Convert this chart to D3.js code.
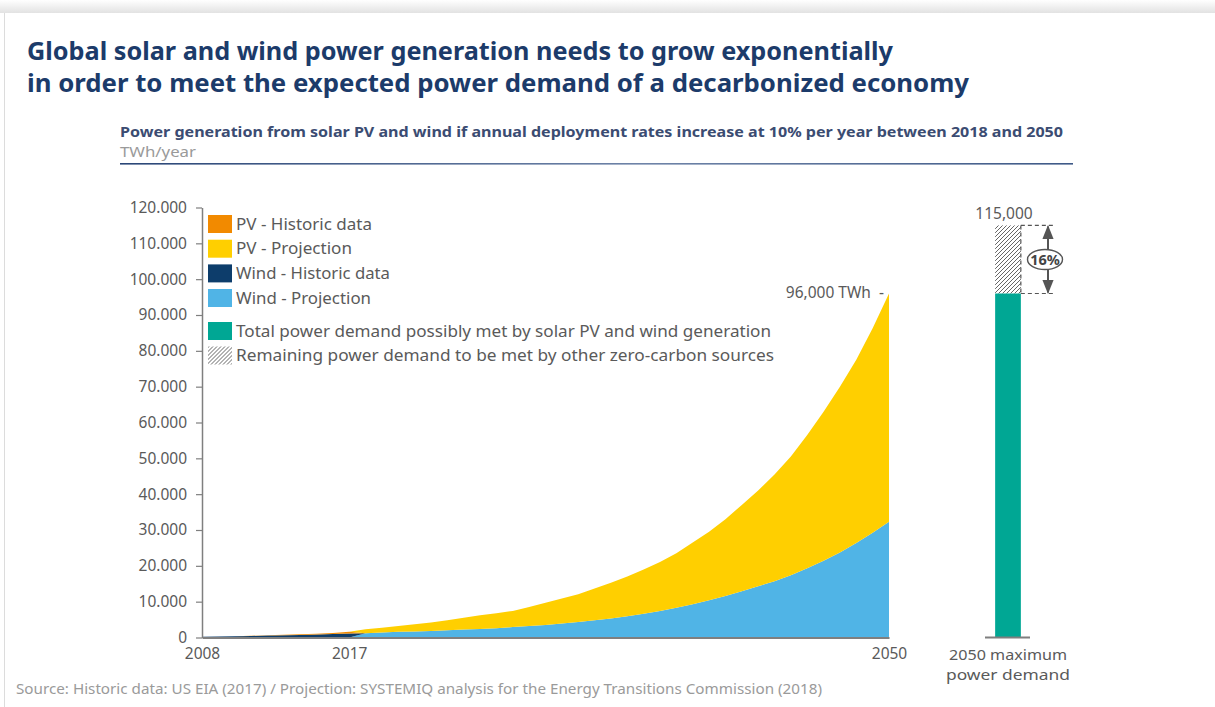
<!DOCTYPE html>
<html>
<head>
<meta charset="utf-8">
<script src="https://cdn.jsdelivr.net/npm/d3@7"></script>
<style>
  html, body { margin: 0; padding: 0; background: #fff; }
  svg { display: block; font-family: "Noto Sans", "Open Sans", sans-serif; }
</style>
</head>
<body>
<svg id="chart" width="1215" height="707"></svg>
<script>
// ---------------- DATA ----------------
const histYears = [2008, 2009, 2010, 2011, 2012, 2013, 2014, 2015, 2016, 2017];
const windHistoric = [219, 276, 342, 437, 524, 635, 712, 831, 958, 1130];
const pvHistoric = [12, 20, 32, 64, 100, 137, 190, 250, 330, 440];

const projYears = [2018, 2019, 2020, 2021, 2022, 2023, 2024, 2025, 2026, 2027,
  2028, 2029, 2030, 2031, 2032, 2033, 2034, 2035, 2036, 2037,
  2038, 2039, 2040, 2041, 2042, 2043, 2044, 2045, 2046, 2047,
  2048, 2049, 2050];
const windProjection = [1200, 1400, 1600, 1700, 1800, 2000, 2200, 2400, 2600, 2900,
  3200, 3500, 3900, 4300, 4800, 5300, 5900, 6600, 7400, 8300,
  9300, 10400, 11600, 12900, 14300, 15700, 17400, 19300, 21400, 23700,
  26400, 29200, 32300];
const pvProjection = [1100, 1300, 1600, 2000, 2400, 2800, 3300, 3800, 4200, 4500,
  5300, 6200, 7000, 7800, 8900, 10000, 11100, 12400, 13700, 15200,
  17200, 19100, 21400, 24100, 26700, 29800, 33100, 37200, 41600, 46300,
  51100, 57100, 63700];

const yTicks = [0, 10000, 20000, 30000, 40000, 50000, 60000, 70000, 80000, 90000, 100000, 110000, 120000];
const xTicks = [2008, 2017, 2050];

const demandCategory = ["2050 maximum power demand"];
const demandMet = [96000];
const demandMax = [115000];
const gapLabel = "16%";
const endLabel = "96,000 TWh  -";
const maxLabel = "115,000";

const seriesKeys = ["windProj", "windHist", "pvHist", "pvProj"];
const seriesColors = { windProj: "#50b4e6", windHist: "#0d3d6b", pvHist: "#f28a00", pvProj: "#ffcf00" };

const legendLabels = ["PV - Historic data", "PV - Projection", "Wind - Historic data", "Wind - Projection",
  "Total power demand possibly met by solar PV and wind generation",
  "Remaining power demand to be met by other zero-carbon sources"];
const legendFills = ["#f28a00", "#ffcf00", "#0d3d6b", "#50b4e6", "#00a794", "url(#hatch)"];

// ---------------- SETUP ----------------
const svg = d3.select("#chart");
const defs = svg.append("defs");

const shadow = defs.append("linearGradient").attr("id", "topShadow").attr("x1", 0).attr("y1", 0).attr("x2", 0).attr("y2", 1);
shadow.append("stop").attr("offset", "0%").attr("stop-color", "#ffffff");
shadow.append("stop").attr("offset", "100%").attr("stop-color", "#e2e2e2");

const pat = defs.append("pattern").attr("id", "hatch").attr("patternUnits", "userSpaceOnUse")
  .attr("width", 4).attr("height", 4);
pat.append("rect").attr("width", 4).attr("height", 4).attr("fill", "#fff");
pat.append("path").attr("d", "M-1,1 l2,-2 M0,4 l4,-4 M3,5 l2,-2")
  .attr("stroke", "#555").attr("stroke-width", 0.9);

defs.append("marker").attr("id", "arrow").attr("viewBox", "0 0 10 10").attr("refX", 9).attr("refY", 5)
  .attr("markerWidth", 7).attr("markerHeight", 7).attr("orient", "auto-start-reverse")
  .append("path").attr("d", "M0,1 L10,5 L0,9 z").attr("fill", "#555");

// card background
svg.append("rect").attr("x", 0).attr("y", 0).attr("width", 1215).attr("height", 13).attr("fill", "url(#topShadow)");
svg.append("line").attr("x1", 4.5).attr("x2", 4.5).attr("y1", 13).attr("y2", 707).attr("stroke", "#dcdcdc").attr("stroke-width", 1);

// Titles
const navy = "#1c3b6a";
svg.append("text").attr("x", 27).attr("y", 59.5).attr("fill", navy)
  .attr("font-size", 24.5).attr("font-weight", "bold")
  .attr("textLength", 866).attr("lengthAdjust", "spacingAndGlyphs")
  .text("Global solar and wind power generation needs to grow exponentially");
svg.append("text").attr("x", 27).attr("y", 91.5).attr("fill", navy)
  .attr("font-size", 24.5).attr("font-weight", "bold")
  .attr("textLength", 942).attr("lengthAdjust", "spacingAndGlyphs")
  .text("in order to meet the expected power demand of a decarbonized economy");

svg.append("text").attr("x", 120).attr("y", 137).attr("fill", "#3b4c72")
  .attr("font-size", 15).attr("font-weight", "bold")
  .attr("textLength", 943).attr("lengthAdjust", "spacingAndGlyphs")
  .text("Power generation from solar PV and wind if annual deployment rates increase at 10% per year between 2018 and 2050");
svg.append("text").attr("x", 120).attr("y", 157).attr("fill", "#9a9a9a")
  .attr("font-size", 15)
  .attr("textLength", 76).attr("lengthAdjust", "spacingAndGlyphs")
  .text("TWh/year");

const ruleGrad = defs.append("linearGradient").attr("id", "ruleGrad");
ruleGrad.append("stop").attr("offset", "0%").attr("stop-color", "#2a4677");
ruleGrad.append("stop").attr("offset", "55%").attr("stop-color", "#6f84a8");
ruleGrad.append("stop").attr("offset", "100%").attr("stop-color", "#3e5987");
svg.append("rect").attr("x", 120).attr("y", 163).attr("width", 953).attr("height", 1.6).attr("fill", "url(#ruleGrad)");

// ---------------- SCALES ----------------
const x = d3.scaleLinear().domain([2008, 2050]).range([202, 889]);
const y = d3.scaleLinear().domain([0, 120000]).range([637.5, 207.5]);

// build table for stack
const allYears = histYears.concat(projYears);
const table = allYears.map(yr => {
  const hi = histYears.indexOf(yr);
  const pi = projYears.indexOf(yr);
  return {
    year: yr,
    windProj: pi >= 0 ? windProjection[pi] : 0,
    windHist: hi >= 0 ? windHistoric[hi] : 0,
    pvHist: hi >= 0 ? pvHistoric[hi] : 0,
    pvProj: pi >= 0 ? pvProjection[pi] : 0
  };
});
const stacked = d3.stack().keys(seriesKeys)(table);
const area = d3.area().x(d => x(d.data.year)).y0(d => y(d[0])).y1(d => y(d[1]));

svg.append("g").selectAll("path").data(stacked).join("path")
  .attr("d", area)
  .attr("fill", d => seriesColors[d.key]);

// ---------------- AXES ----------------
const locale = d3.formatLocale({ decimal: ",", thousands: ".", grouping: [3], currency: ["", ""] });
const fmt = locale.format(",d");
const axisGray = "#7f7f7f";
const labelGray = "#5a5a5a";

const yAxis = svg.append("g").attr("transform", "translate(202,0)")
  .call(d3.axisLeft(y).tickValues(yTicks).tickFormat(fmt).tickSize(6).tickSizeOuter(0).tickPadding(9));
yAxis.select(".domain").attr("stroke", axisGray).attr("stroke-width", 1.5);
yAxis.selectAll(".tick line").attr("stroke", axisGray).attr("stroke-width", 1.2);
yAxis.selectAll(".tick text").attr("fill", labelGray).attr("font-size", 15.5)
  .attr("font-family", "\"Noto Sans\", sans-serif");

const xAxis = svg.append("g").attr("transform", "translate(0,637.5)")
  .call(d3.axisBottom(x).tickValues(xTicks).tickFormat(d3.format("d")).tickSize(0).tickSizeOuter(0).tickPadding(10));
xAxis.select(".domain").attr("stroke", axisGray).attr("stroke-width", 2);
xAxis.selectAll(".tick text").attr("fill", labelGray).attr("font-size", 15.5)
  .attr("font-family", "\"Noto Sans\", sans-serif");

// end label
svg.append("text").attr("x", 884).attr("y", 298).attr("text-anchor", "end")
  .attr("fill", labelGray).attr("font-size", 15.5).attr("xml:space", "preserve")
  .style("white-space", "pre").text(endLabel);

// ---------------- LEGEND ----------------
const legendY = [224, 248.7, 273.4, 298, 331, 355.5];
const lg = svg.append("g").selectAll("g").data(legendLabels).join("g")
  .attr("transform", (d, i) => `translate(208,${legendY[i]})`);
lg.append("rect").attr("x", 0).attr("y", -9).attr("width", 24).attr("height", 18)
  .attr("fill", (d, i) => legendFills[i]);
const legendWidths = [136, 116, 154, 135, 535, 538];
lg.append("text").attr("x", 28).attr("y", 5.5).attr("fill", labelGray).attr("font-size", 15.5)
  .attr("textLength", (d, i) => legendWidths[i]).attr("lengthAdjust", "spacingAndGlyphs")
  .text(d => d);

// ---------------- RIGHT BAR ----------------
const xb = d3.scaleBand().domain(demandCategory).range([978, 1038]).paddingInner(0.4).paddingOuter(0.4);
const bx = xb(demandCategory[0]);
const bw = xb.bandwidth();

svg.append("rect").attr("x", bx).attr("y", y(demandMax[0])).attr("width", bw)
  .attr("height", y(demandMet[0]) - y(demandMax[0])).attr("fill", "url(#hatch)");
svg.append("rect").attr("x", bx).attr("y", y(demandMet[0])).attr("width", bw)
  .attr("height", y(0) - y(demandMet[0])).attr("fill", "#00a794");
svg.append("line").attr("x1", 985).attr("x2", 1030).attr("y1", y(0)).attr("y2", y(0))
  .attr("stroke", axisGray).attr("stroke-width", 2);

// dashed guides
const dash = svg.append("g").attr("stroke", "#555").attr("stroke-width", 1.2).attr("stroke-dasharray", "4,3");
dash.append("line").attr("x1", bx + bw).attr("x2", 1053).attr("y1", y(demandMax[0])).attr("y2", y(demandMax[0]));
dash.append("line").attr("x1", bx + bw).attr("x2", 1053).attr("y1", y(demandMet[0])).attr("y2", y(demandMet[0]));
dash.append("line").attr("x1", bx + bw).attr("x2", bx + bw).attr("y1", y(demandMax[0])).attr("y2", y(demandMet[0]));

// double arrow
const ax = 1048;
svg.append("line").attr("x1", ax).attr("x2", ax).attr("y1", y(demandMax[0]) + 10).attr("y2", y(demandMax[0]) + 1)
  .attr("stroke", "#555").attr("stroke-width", 2).attr("marker-end", "url(#arrow)");
svg.append("line").attr("x1", ax).attr("x2", ax).attr("y1", y(demandMax[0]) + 10).attr("y2", y(demandMet[0]) - 1)
  .attr("stroke", "#555").attr("stroke-width", 2).attr("marker-end", "url(#arrow)");
const midY = (y(demandMax[0]) + y(demandMet[0])) / 2;
svg.append("ellipse").attr("cx", ax - 3).attr("cy", midY).attr("rx", 17.5).attr("ry", 10)
  .attr("fill", "#fff").attr("stroke", "#555").attr("stroke-width", 1.4);
svg.append("text").attr("x", ax - 3).attr("y", midY + 5.5).attr("text-anchor", "middle")
  .attr("fill", "#444").attr("font-size", 14.5).attr("font-weight", "bold").text(gapLabel);

svg.append("text").attr("x", 1004).attr("y", 219).attr("text-anchor", "middle")
  .attr("fill", labelGray).attr("font-size", 15.5).text(maxLabel);

const catLines = ["2050 maximum", "power demand"];
const catWidths = [118, 124];
svg.append("g").selectAll("text").data(catLines).join("text")
  .attr("x", (d, i) => bx + bw / 2 - catWidths[i] / 2).attr("y", (d, i) => 659.5 + i * 20)
  .attr("fill", labelGray).attr("font-size", 14.5)
  .attr("textLength", (d, i) => catWidths[i]).attr("lengthAdjust", "spacingAndGlyphs")
  .text(d => d);

// ---------------- SOURCE ----------------
svg.append("text").attr("x", 16).attr("y", 694).attr("fill", "#9a9a9a").attr("font-size", 14)
  .attr("textLength", 806).attr("lengthAdjust", "spacingAndGlyphs")
  .text("Source: Historic data: US EIA (2017) / Projection: SYSTEMIQ analysis for the Energy Transitions Commission (2018)");
</script>
</body>
</html>
